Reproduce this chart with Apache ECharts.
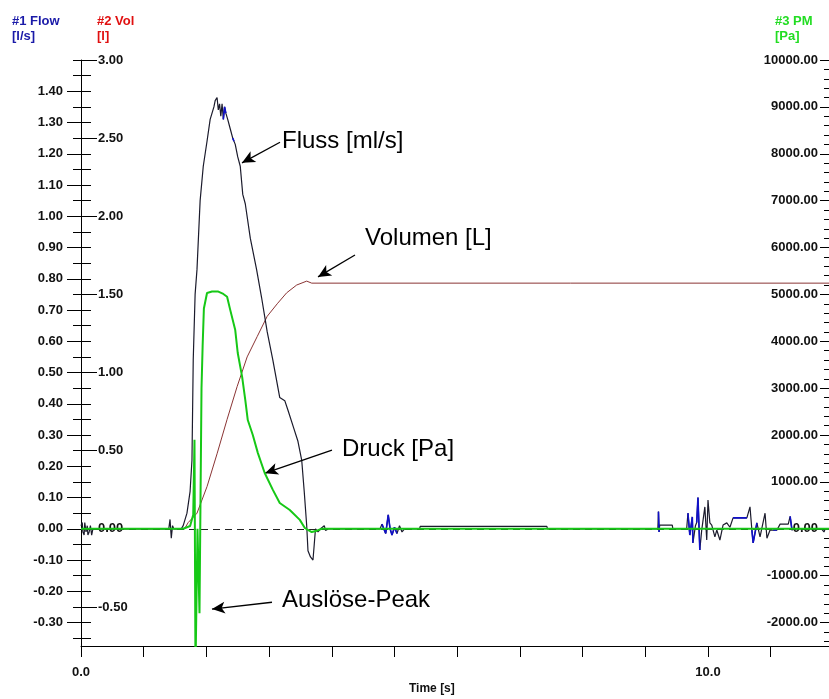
<!DOCTYPE html>
<html>
<head>
<meta charset="utf-8">
<script src="https://cdn.jsdelivr.net/npm/echarts@6/dist/echarts.min.js"></script>
<style>
  html, body { margin: 0; padding: 0; background: #fff; }
  #chart { width: 829px; height: 699px; }
</style>
</head>
<body>
<div id="chart"></div>
<script>
// Time axis [s]
const timeMin = 0;
const timeMax = 11.93;
const timeTicks = [0, 1, 2, 3, 4, 5, 6, 7, 8, 9, 10, 11];
const timeLabels = [0, 10];

// #1 Flow [l/s]
const flowMin = -0.375;
const flowMax = 1.5;
const flowMajor = [-0.3, -0.2, -0.1, 0, 0.1, 0.2, 0.3, 0.4, 0.5, 0.6, 0.7, 0.8, 0.9, 1.0, 1.1, 1.2, 1.3, 1.4];
const flowMinor = [-0.35, -0.25, -0.15, -0.05, 0.05, 0.15, 0.25, 0.35, 0.45, 0.55, 0.65, 0.75, 0.85, 0.95, 1.05, 1.15, 1.25, 1.35, 1.45, 1.5];

// #2 Vol [l]
const volMin = -0.75;
const volMax = 3.0;
const volTicks = [-0.5, 0, 0.5, 1.0, 1.5, 2.0, 2.5, 3.0];

// #3 PM [Pa]
const pmMin = -2500;
const pmMax = 10000;
const pmMajor = [-2000, -1000, 0, 1000, 2000, 3000, 4000, 5000, 6000, 7000, 8000, 9000, 10000];
const pmMinor = [-2400, -2200, -1800, -1600, -1400, -1200, -800, -600, -400, -200,
  200, 400, 600, 800, 1200, 1400, 1600, 1800, 2200, 2400, 2600, 2800, 3200, 3400, 3600, 3800,
  4200, 4400, 4600, 4800, 5200, 5400, 5600, 5800, 6200, 6400, 6600, 6800, 7200, 7400, 7600, 7800,
  8200, 8400, 8600, 8800, 9200, 9400, 9600, 9800];

// Flow samples [t, l/s]
const flowSamples = [
  [0.00, 0.01], [0.02, 0.02], [0.03, -0.01], [0.05, -0.02], [0.06, 0.02], [0.08, -0.01], [0.10, 0.01],
  [0.11, -0.02], [0.13, -0.01], [0.15, 0.01], [0.17, -0.02], [0.19, 0.0], [0.22, 0.0],
  [1.40, 0], [1.42, 0.03], [1.44, -0.03], [1.46, 0.01], [1.48, 0], [1.60, 0], [1.63, 0.01],
  [1.69, 0.05], [1.74, 0.12], [1.77, 0.22], [1.79, 0.54], [1.82, 0.75], [1.85, 0.83], [1.90, 1.05],
  [1.95, 1.16], [2.01, 1.24], [2.06, 1.31], [2.09, 1.33], [2.12, 1.35], [2.14, 1.37], [2.17, 1.38],
  [2.19, 1.34], [2.21, 1.36], [2.23, 1.32], [2.25, 1.36], [2.27, 1.31], [2.29, 1.35], [2.31, 1.33],
  [2.34, 1.31], [2.38, 1.28], [2.42, 1.25], [2.46, 1.23], [2.50, 1.19], [2.54, 1.16], [2.58, 1.07],
  [2.62, 1.04], [2.70, 0.93], [2.80, 0.83], [2.88, 0.74], [2.97, 0.63], [3.06, 0.54], [3.17, 0.42],
  [3.25, 0.41], [3.30, 0.38], [3.38, 0.33], [3.46, 0.28], [3.52, 0.22], [3.56, 0.12], [3.60, 0.01],
  [3.62, -0.07], [3.66, -0.09], [3.70, -0.10], [3.72, -0.05], [3.74, 0], [3.78, -0.01], [3.82, 0],
  [3.88, 0.01], [3.90, -0.005], [3.95, 0],
  [4.77, 0], [4.80, 0.015], [4.86, -0.015], [4.90, 0.045], [4.93, 0], [4.96, -0.02], [5.00, 0.005],
  [5.04, -0.015], [5.08, 0.01], [5.12, -0.01], [5.16, 0],
  [5.40, 0], [5.41, 0.008], [7.43, 0.008], [7.44, 0],
  [9.20, 0], [9.21, 0.055], [9.22, -0.01], [9.23, 0.012], [9.43, 0.012], [9.44, 0],
  [9.66, 0], [9.68, 0.05], [9.71, -0.02], [9.75, 0.038], [9.76, -0.045], [9.80, 0.01], [9.82, 0.02],
  [9.84, 0.10], [9.87, -0.068], [9.90, -0.004], [9.95, 0.07], [9.98, -0.036], [10.00, 0.092],
  [10.03, 0.019], [10.06, 0.012], [10.11, -0.026], [10.14, -0.004], [10.19, -0.036], [10.24, 0.012],
  [10.30, 0.019], [10.35, 0.005], [10.40, 0.035], [10.62, 0.035], [10.67, 0.07], [10.70, -0.004],
  [10.72, -0.045], [10.78, 0.019], [10.83, -0.026], [10.91, 0.05], [10.94, -0.03], [10.99, -0.004],
  [11.04, -0.004], [11.10, -0.004], [11.15, 0.015], [11.28, 0.015], [11.31, 0.04], [11.34, -0.004],
  [11.40, 0], [11.81, 0], [11.83, 0.005], [11.85, -0.01], [11.87, 0], [11.93, 0]
];

// Flow stretches drawn in blue (null breaks the line)
const flowBlueSamples = [
  [2.27, 1.31], [2.29, 1.35], [2.31, 1.33], [2.31, null],
  [2.42, 1.25], [2.44, 1.24], [2.44, null],
  [4.80, 0.015], [4.86, -0.015], [4.90, 0.045], [4.93, 0], [4.96, -0.02], [5.00, 0.005], [5.04, -0.015], [5.04, null],
  [9.21, 0.055], [9.22, -0.01], [9.22, null],
  [9.68, 0.05], [9.71, -0.02], [9.75, 0.038], [9.76, -0.045], [9.76, null],
  [9.82, 0.02], [9.84, 0.10], [9.87, -0.068], [9.87, null],
  [10.40, 0.035], [10.62, 0.035], [10.62, null],
  [10.70, -0.004], [10.72, -0.045], [10.78, 0.019], [10.78, null],
  [11.04, -0.004], [11.10, -0.004], [11.10, null],
  [11.31, 0.04], [11.34, -0.004]
];

// Volume samples [t, l]
const volSamples = [
  [0, 0], [1.65, 0], [1.71, 0.04], [1.85, 0.10], [2.01, 0.27], [2.17, 0.48], [2.33, 0.70], [2.49, 0.91],
  [2.65, 1.10], [2.81, 1.23], [2.97, 1.36], [3.13, 1.44], [3.28, 1.51], [3.44, 1.56], [3.60, 1.585],
  [3.68, 1.572], [11.93, 1.572]
];

// Pressure samples [t, Pa]
const pmSamples = [
  [0, 0], [1.63, 0], [1.74, 60], [1.79, 300], [1.81, 1900], [1.826, -3000], [1.858, 0], [1.89, -1800],
  [1.922, 3000], [1.94, 3900], [1.96, 4700], [2.01, 5030], [2.09, 5060], [2.19, 5060], [2.27, 5010],
  [2.33, 4950], [2.38, 4670], [2.46, 4240], [2.50, 3750], [2.57, 3240], [2.62, 2750], [2.66, 2320],
  [2.74, 2000], [2.82, 1620], [2.93, 1190], [3.06, 830], [3.17, 550], [3.33, 400], [3.49, 190],
  [3.57, 17], [3.62, -25], [3.68, -70], [3.76, -40], [3.84, 0], [11.93, 0]
];

// Annotation texts and arrows, positioned in (t, flow) units
const notes = [
  { text: 'Fluss [ml/s]', at: [3.206, 1.241], from: [3.174, 1.237], to: [2.568, 1.171] },
  { text: 'Volumen [L]', at: [4.53, 0.93], from: [4.37, 0.876], to: [3.78, 0.806] },
  { text: 'Druck [Pa]', at: [4.163, 0.255], from: [4.003, 0.252], to: [2.935, 0.178] },
  { text: 'Auslöse-Peak', at: [3.206, -0.228], from: [3.046, -0.235], to: [2.089, -0.257] }
];

const FONT = 'Arial, "Liberation Sans", sans-serif';
const tickStyle = { color: '#000', width: 1 };
const labelStyle = { color: '#111', fontFamily: FONT, fontSize: 13, fontWeight: 'bold' };

const chart = echarts.init(document.getElementById('chart'), null, { renderer: 'canvas' });

function hiddenAxisBase(min, max, position) {
  return {
    type: 'value', min, max, position, offset: 0,
    axisLine: { show: false, onZero: false },
    splitLine: { show: false },
    axisLabel: { show: false },
    axisTick: { show: false }
  };
}

chart.setOption({
  animation: false,
  backgroundColor: '#fff',
  grid: { left: 81, right: 0, top: 60, bottom: 53, containLabel: false },
  xAxis: {
    type: 'value', min: timeMin, max: timeMax,
    axisLine: { show: true, onZero: false, lineStyle: tickStyle },
    splitLine: { show: false },
    axisTick: { show: true, length: 11, customValues: timeTicks, lineStyle: tickStyle },
    axisLabel: {
      show: true, customValues: timeLabels, margin: 20,
      formatter: v => v.toFixed(1), ...labelStyle
    }
  },
  yAxis: [
    // 0: flow axis with labels, outward major ticks
    Object.assign(hiddenAxisBase(flowMin, flowMax, 'left'), {
      axisLine: { show: true, onZero: false, lineStyle: tickStyle },
      axisTick: { show: true, length: 14, customValues: flowMajor, lineStyle: tickStyle },
      axisLabel: { show: true, customValues: flowMajor, margin: 18, formatter: v => v.toFixed(2), ...labelStyle }
    }),
    // 1: flow ticks pointing into the plot
    Object.assign(hiddenAxisBase(flowMin, flowMax, 'left'), {
      axisTick: { show: true, inside: true, length: 10, customValues: flowMajor.concat(flowMinor), lineStyle: tickStyle }
    }),
    // 2: flow minor ticks, outward part
    Object.assign(hiddenAxisBase(flowMin, flowMax, 'left'), {
      axisTick: { show: true, length: 8, customValues: flowMinor, lineStyle: tickStyle }
    }),
    // 3: volume axis, labels inside
    Object.assign(hiddenAxisBase(volMin, volMax, 'left'), {
      axisTick: { show: true, inside: true, length: 16, customValues: volTicks, lineStyle: tickStyle },
      axisLabel: { show: true, inside: true, customValues: volTicks, margin: 17, formatter: v => v.toFixed(2), ...labelStyle }
    }),
    // 4: pressure axis on the right
    Object.assign(hiddenAxisBase(pmMin, pmMax, 'right'), {
      axisTick: { show: true, inside: true, length: 9, customValues: pmMajor, lineStyle: tickStyle },
      axisLabel: { show: true, inside: true, customValues: pmMajor, margin: 11, formatter: v => v.toFixed(2), ...labelStyle }
    }),
    // 5: pressure minor ticks
    Object.assign(hiddenAxisBase(pmMin, pmMax, 'right'), {
      axisTick: { show: true, inside: true, length: 5, customValues: pmMinor, lineStyle: tickStyle }
    })
  ],
  series: [
    {
      name: 'Vol', type: 'line', yAxisIndex: 3, z: 2, symbol: 'none',
      data: volSamples,
      lineStyle: { color: '#8a3434', width: 1 },
      markLine: {
        silent: true, symbol: 'none', label: { show: false },
        lineStyle: { color: '#222', type: [7, 5], width: 1 },
        data: [{ yAxis: 0 }]
      }
    },
    {
      name: 'Flow', type: 'line', yAxisIndex: 0, z: 3, symbol: 'none',
      data: flowSamples,
      lineStyle: { color: '#1b1b2c', width: 1.2 },
      markLine: {
        silent: true, symbol: ['none', 'arrow'], symbolSize: [9, 13], label: { show: false },
        lineStyle: { color: '#000', type: 'solid', width: 1.3 },
        data: notes.map(n => [{ coord: n.from }, { coord: n.to }])
      },
      markPoint: {
        silent: true, symbol: 'circle', symbolSize: 0,
        label: {
          show: true, position: 'right', distance: 0,
          color: '#000', fontFamily: FONT, fontSize: 24,
          formatter: p => p.name
        },
        data: notes.map(n => ({ name: n.text, coord: n.at }))
      }
    },
    {
      name: 'FlowBlue', type: 'line', yAxisIndex: 0, z: 4, symbol: 'none', connectNulls: false,
      data: flowBlueSamples,
      lineStyle: { color: '#1010c8', width: 1.6 }
    },
    {
      name: 'PM', type: 'line', yAxisIndex: 4, z: 5, symbol: 'none',
      data: pmSamples,
      lineStyle: { color: '#16c816', width: 2 }
    }
  ],
  graphic: [
    { type: 'text', left: 12, top: 15, style: { text: '#1 Flow', fill: '#1a1aa8', font: 'bold 13px ' + FONT } },
    { type: 'text', left: 12, top: 30, style: { text: '[l/s]', fill: '#1a1aa8', font: 'bold 13px ' + FONT } },
    { type: 'text', left: 97, top: 15, style: { text: '#2 Vol', fill: '#e01010', font: 'bold 13px ' + FONT } },
    { type: 'text', left: 97, top: 30, style: { text: '[l]', fill: '#e01010', font: 'bold 13px ' + FONT } },
    { type: 'text', left: 775, top: 15, style: { text: '#3 PM', fill: '#22dd22', font: 'bold 13px ' + FONT } },
    { type: 'text', left: 775, top: 30, style: { text: '[Pa]', fill: '#22dd22', font: 'bold 13px ' + FONT } },
    { type: 'text', left: 409, top: 683, style: { text: 'Time [s]', fill: '#111', font: 'bold 12px ' + FONT } }
  ]
});
</script>
</body>
</html>
